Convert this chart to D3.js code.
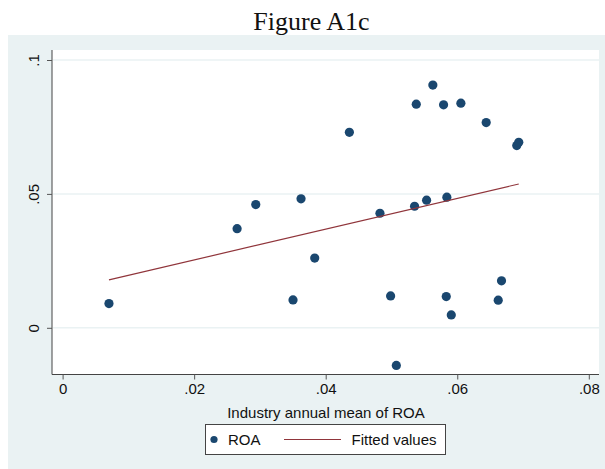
<!DOCTYPE html>
<html>
<head>
<meta charset="utf-8">
<script src="https://cdn.jsdelivr.net/npm/d3@7"></script>
<style>
  html, body { margin: 0; padding: 0; background: #ffffff; }
  svg { display: block; }
</style>
</head>
<body>
<script>
// Industry annual mean of ROA (x) against firm ROA (y)
const industryMeanROA = [0.00705, 0.02653, 0.02937, 0.03503, 0.03625, 0.03833, 0.0436, 0.04825,
  0.04987, 0.05074, 0.05377, 0.05351, 0.05534, 0.05629, 0.05792, 0.05833, 0.05842, 0.05909,
  0.06055, 0.0644, 0.06623, 0.06673, 0.06905, 0.06935];
const roa = [0.00903, 0.03703, 0.04603, 0.01042, 0.04816, 0.02605, 0.07301, 0.04277,
  0.01192, -0.01406, 0.08351, 0.04539, 0.04764, 0.09063, 0.08325, 0.01166, 0.04876, 0.0048,
  0.08388, 0.07665, 0.01031, 0.01754, 0.06803, 0.06927];

// Linear fit endpoints (fitted values at the smallest and largest x)
const fittedX = [0.00705, 0.06935];
const fittedY = [0.0179, 0.0537];

const xTicks = [0, 0.02, 0.04, 0.06, 0.08];
const xTickLabels = ["0", ".02", ".04", ".06", ".08"];
const yTicks = [0, 0.05, 0.1];
const yTickLabels = ["0", ".05", ".1"];

const titleText = "Figure A1c";
const xTitle = "Industry annual mean of ROA";
const legendLabels = ["ROA", "Fitted values"];

const W = 605, H = 469;
const navy = "#1a476f", maroon = "#90353b", bgBlue = "#eaf2f3";
const sans = "'Liberation Sans', Arial, Helvetica, sans-serif";
const fs = 15;

const svg = d3.select("body").append("svg").attr("width", W).attr("height", H);

// graph region and plot region
svg.append("rect").attr("x", 8).attr("y", 35).attr("width", W - 8).attr("height", H - 35).attr("fill", bgBlue);
const plot = { left: 52, right: 599, top: 50, bottom: 374.5 };
svg.append("rect").attr("x", plot.left).attr("y", plot.top)
  .attr("width", plot.right - plot.left).attr("height", plot.bottom - plot.top).attr("fill", "#ffffff");

const x = d3.scaleLinear().domain([0, 0.08]).range([62.6, 588.8]);
const y = d3.scaleLinear().domain([0, 0.1]).range([327.8, 60]);

// title
svg.append("text").attr("x", 311.5).attr("y", 30).attr("text-anchor", "middle")
  .attr("font-family", "'Liberation Serif', 'Times New Roman', serif").attr("font-size", 26)
  .attr("fill", "#111").text(titleText);

// horizontal gridlines
svg.append("g").selectAll("line").data(yTicks).join("line")
  .attr("x1", plot.left + 1).attr("x2", plot.right)
  .attr("y1", d => y(d)).attr("y2", d => y(d))
  .attr("stroke", bgBlue).attr("stroke-width", 1.5);

// y axis
const yAxis = d3.axisLeft(y).tickValues(yTicks).tickSize(5).tickPadding(8)
  .tickFormat((d, i) => yTickLabels[i]);
const gy = svg.append("g").attr("transform", `translate(${plot.left},0)`).call(yAxis);
gy.select(".domain").attr("d", `M0,${plot.top}V${plot.bottom}`).attr("stroke", "#444");
gy.selectAll(".tick line").attr("stroke", "#555");
gy.selectAll(".tick text")
  .attr("font-family", sans).attr("font-size", fs).attr("fill", "#111")
  .attr("x", null).attr("dy", null).attr("text-anchor", "middle")
  .attr("transform", "translate(-13.5,0) rotate(-90)");

// x axis
const xAxis = d3.axisBottom(x).tickValues(xTicks).tickSize(5).tickPadding(4)
  .tickFormat((d, i) => xTickLabels[i]);
const gx = svg.append("g").attr("transform", `translate(0,${plot.bottom})`).call(xAxis);
gx.select(".domain").attr("d", `M${plot.left},0H${plot.right}`).attr("stroke", "#444");
gx.selectAll(".tick line").attr("stroke", "#555");
gx.selectAll(".tick text").attr("font-family", sans).attr("font-size", fs).attr("fill", "#111");

svg.append("text").attr("x", 326).attr("y", 418).attr("text-anchor", "middle")
  .attr("font-family", sans).attr("font-size", fs).attr("fill", "#111").text(xTitle);

// scatter points
svg.append("g").selectAll("circle").data(d3.range(roa.length)).join("circle")
  .attr("cx", i => x(industryMeanROA[i])).attr("cy", i => y(roa[i])).attr("r", 4.6)
  .attr("fill", navy);

// fitted line
svg.append("path").datum(d3.range(fittedX.length))
  .attr("d", d3.line().x(i => x(fittedX[i])).y(i => y(fittedY[i])))
  .attr("fill", "none").attr("stroke", maroon).attr("stroke-width", 1.2);

// legend
const lg = svg.append("g");
lg.append("rect").attr("x", 205.5).attr("y", 424.5).attr("width", 240).attr("height", 30)
  .attr("fill", "#ffffff").attr("stroke", "#444").attr("stroke-width", 1);
lg.append("circle").attr("cx", 214).attr("cy", 439.5).attr("r", 3.6).attr("fill", navy);
lg.append("text").attr("x", 228).attr("y", 445).attr("font-family", sans).attr("font-size", fs)
  .attr("fill", "#111").text(legendLabels[0]);
lg.append("line").attr("x1", 284).attr("x2", 341).attr("y1", 439.5).attr("y2", 439.5)
  .attr("stroke", maroon).attr("stroke-width", 1.2);
lg.append("text").attr("x", 351.5).attr("y", 445).attr("font-family", sans).attr("font-size", fs)
  .attr("fill", "#111").text(legendLabels[1]);
</script>
</body>
</html>
